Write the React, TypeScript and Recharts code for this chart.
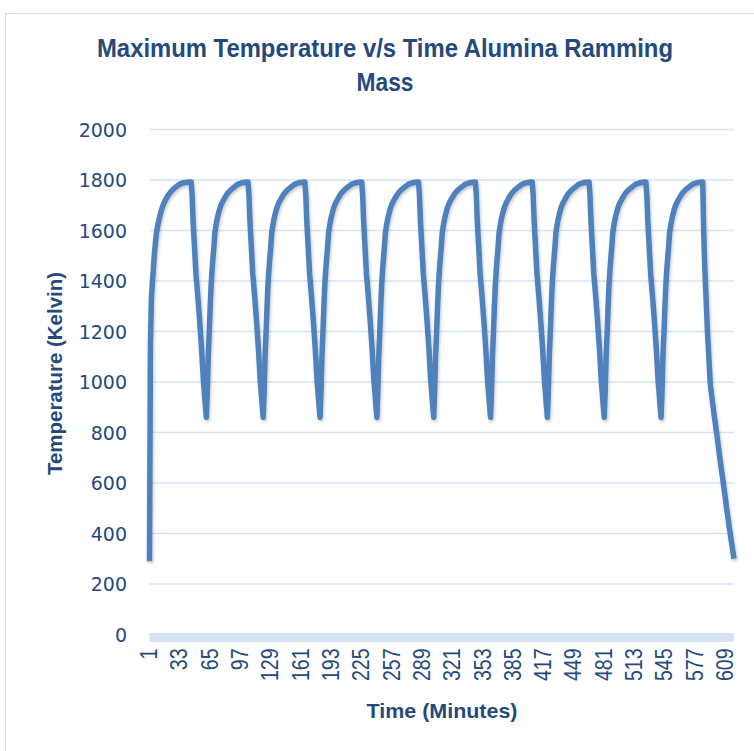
import React from 'react';
import { LineChart, Line, XAxis, YAxis, CartesianGrid } from 'recharts';

// first heat-up from ambient, minutes 1..45
const firstHeat = [
  290, 1150, 1330, 1390, 1440, 1500, 1540, 1580, 1605, 1625, 1643, 1658, 1672, 1685, 1697,
  1706, 1714, 1722, 1729, 1735, 1741, 1746, 1751, 1755, 1759, 1763, 1767, 1770, 1773, 1776,
  1779, 1781, 1783, 1785, 1787, 1788, 1789, 1790, 1790, 1791, 1791, 1792, 1792, 1792, 1792,
];

// heat-up from the 860 K dip, 45 minutes
const cycleHeat = [
  860, 960, 1100, 1190, 1290, 1380, 1440, 1490, 1535, 1590, 1615, 1637, 1655, 1670, 1684,
  1696, 1705, 1713, 1720, 1727, 1733, 1739, 1745, 1750, 1754, 1758, 1762, 1765, 1768, 1771,
  1774, 1777, 1780, 1782, 1784, 1786, 1787, 1788, 1789, 1790, 1790, 1791, 1791, 1792, 1792,
];

// cool-down between pulses, 15 minutes
const cycleCool = [1740, 1640, 1570, 1500, 1430, 1385, 1340, 1290, 1240, 1185, 1130, 1065, 1000, 955, 905];

// last cool-down after the 10th pulse
const finalCool = [
  1600, 1470, 1380, 1290, 1200, 1130, 1060, 990, 960, 930, 900, 870, 845, 815, 790, 760, 730,
  700, 675, 645, 620, 590, 565, 535, 505, 480, 455, 425, 400, 375, 350, 325, 300,
];

const xTicks = [1, 33, 65, 97, 129, 161, 193, 225, 257, 289, 321, 353, 385, 417, 449, 481, 513, 545, 577, 609];
const yTicks = [0, 200, 400, 600, 800, 1000, 1200, 1400, 1600, 1800, 2000];

const segments = [
  firstHeat, cycleCool,
  cycleHeat, cycleCool,
  cycleHeat, cycleCool,
  cycleHeat, cycleCool,
  cycleHeat, cycleCool,
  cycleHeat, cycleCool,
  cycleHeat, cycleCool,
  cycleHeat, cycleCool,
  cycleHeat, cycleCool,
  cycleHeat, finalCool,
];

const data = segments.flat().map((temp, i) => ({ minute: i + 1, temp }));

const textColor = '#244a7c';

const YTick = (props: any) => {
  const { x, y, payload } = props;
  return (
    <text x={x} y={y} textAnchor="end" dominantBaseline="central"
      fontFamily="'DejaVu Sans', sans-serif" fontSize={19} fill={textColor}>
      {payload.value}
    </text>
  );
};

const XTick = (props: any) => {
  const { x, y, payload } = props;
  return (
    <g transform={`translate(${x},${y}) rotate(-90)`}>
      <text x={0} y={0} textAnchor="end" dominantBaseline="central" transform="scale(0.85,1)"
        fontFamily="'Liberation Sans', Arial, sans-serif" fontSize={23} fill={textColor}>
        {payload.value}
      </text>
    </g>
  );
};

export default function App() {
  return (
    <div style={{ position: 'absolute', left: 0, top: 0, width: 754, height: 751, background: '#fff', overflow: 'hidden' }}>
      <div style={{ position: 'absolute', left: 5, top: 13, width: 800, height: 800, border: '1.5px solid #d3e1f1' }} />
      <div style={{ position: 'absolute', left: 0, top: 0 }}>
        <LineChart width={754} height={751} data={data} margin={{ top: 129.5, right: 20, bottom: 56.5, left: 0 }}>
          <CartesianGrid vertical={false} stroke="#d6e3f3" strokeWidth={1.3} />
          <XAxis
            type="number"
            dataKey="minute"
            domain={[1, 618]}
            ticks={xTicks}
            interval={0}
            height={60}
            tickLine={false}
            tickSize={0}
            tickMargin={14}
            axisLine={{ stroke: '#d5e3f4', strokeWidth: 9, transform: 'translate(0,3)' }}
            tick={<XTick />}
          />
          <YAxis
            domain={[0, 2000]}
            ticks={yTicks}
            width={149.5}
            tickLine={false}
            axisLine={false}
            tickSize={0}
            tickMargin={22.5}
            tick={<YTick />}
          />
          <Line
            type="linear"
            dataKey="temp"
            stroke="#4f81bd"
            strokeWidth={5.5}
            strokeLinejoin="round"
            dot={false}
            filter="url(#lineShadow)"
            isAnimationActive={false}
          />
        </LineChart>
      </div>
      <svg width={754} height={751} style={{ position: 'absolute', left: 0, top: 0, pointerEvents: 'none' }}>
        <defs>
          <filter id="lineShadow" x="-5%" y="-5%" width="110%" height="110%">
            <feDropShadow dx="1" dy="2" stdDeviation="1.5" floodColor="#000" floodOpacity="0.22" />
          </filter>
        </defs>
        <g fontFamily="'Liberation Sans', Arial, sans-serif" fontWeight={700} fill={textColor}>
          <text x={385} y={57} textAnchor="middle" fontSize={25} textLength={576} lengthAdjust="spacingAndGlyphs">
            Maximum Temperature v/s Time Alumina Ramming
          </text>
          <text x={385} y={91} textAnchor="middle" fontSize={25} textLength={57} lengthAdjust="spacingAndGlyphs">
            Mass
          </text>
          <text transform="translate(62,373.5) rotate(-90)" textAnchor="middle" fontSize={20} textLength={203} lengthAdjust="spacingAndGlyphs">
            Temperature (Kelvin)
          </text>
          <text x={442} y={718} textAnchor="middle" fontSize={21} textLength={151} lengthAdjust="spacingAndGlyphs">
            Time (Minutes)
          </text>
        </g>
      </svg>
    </div>
  );
}
